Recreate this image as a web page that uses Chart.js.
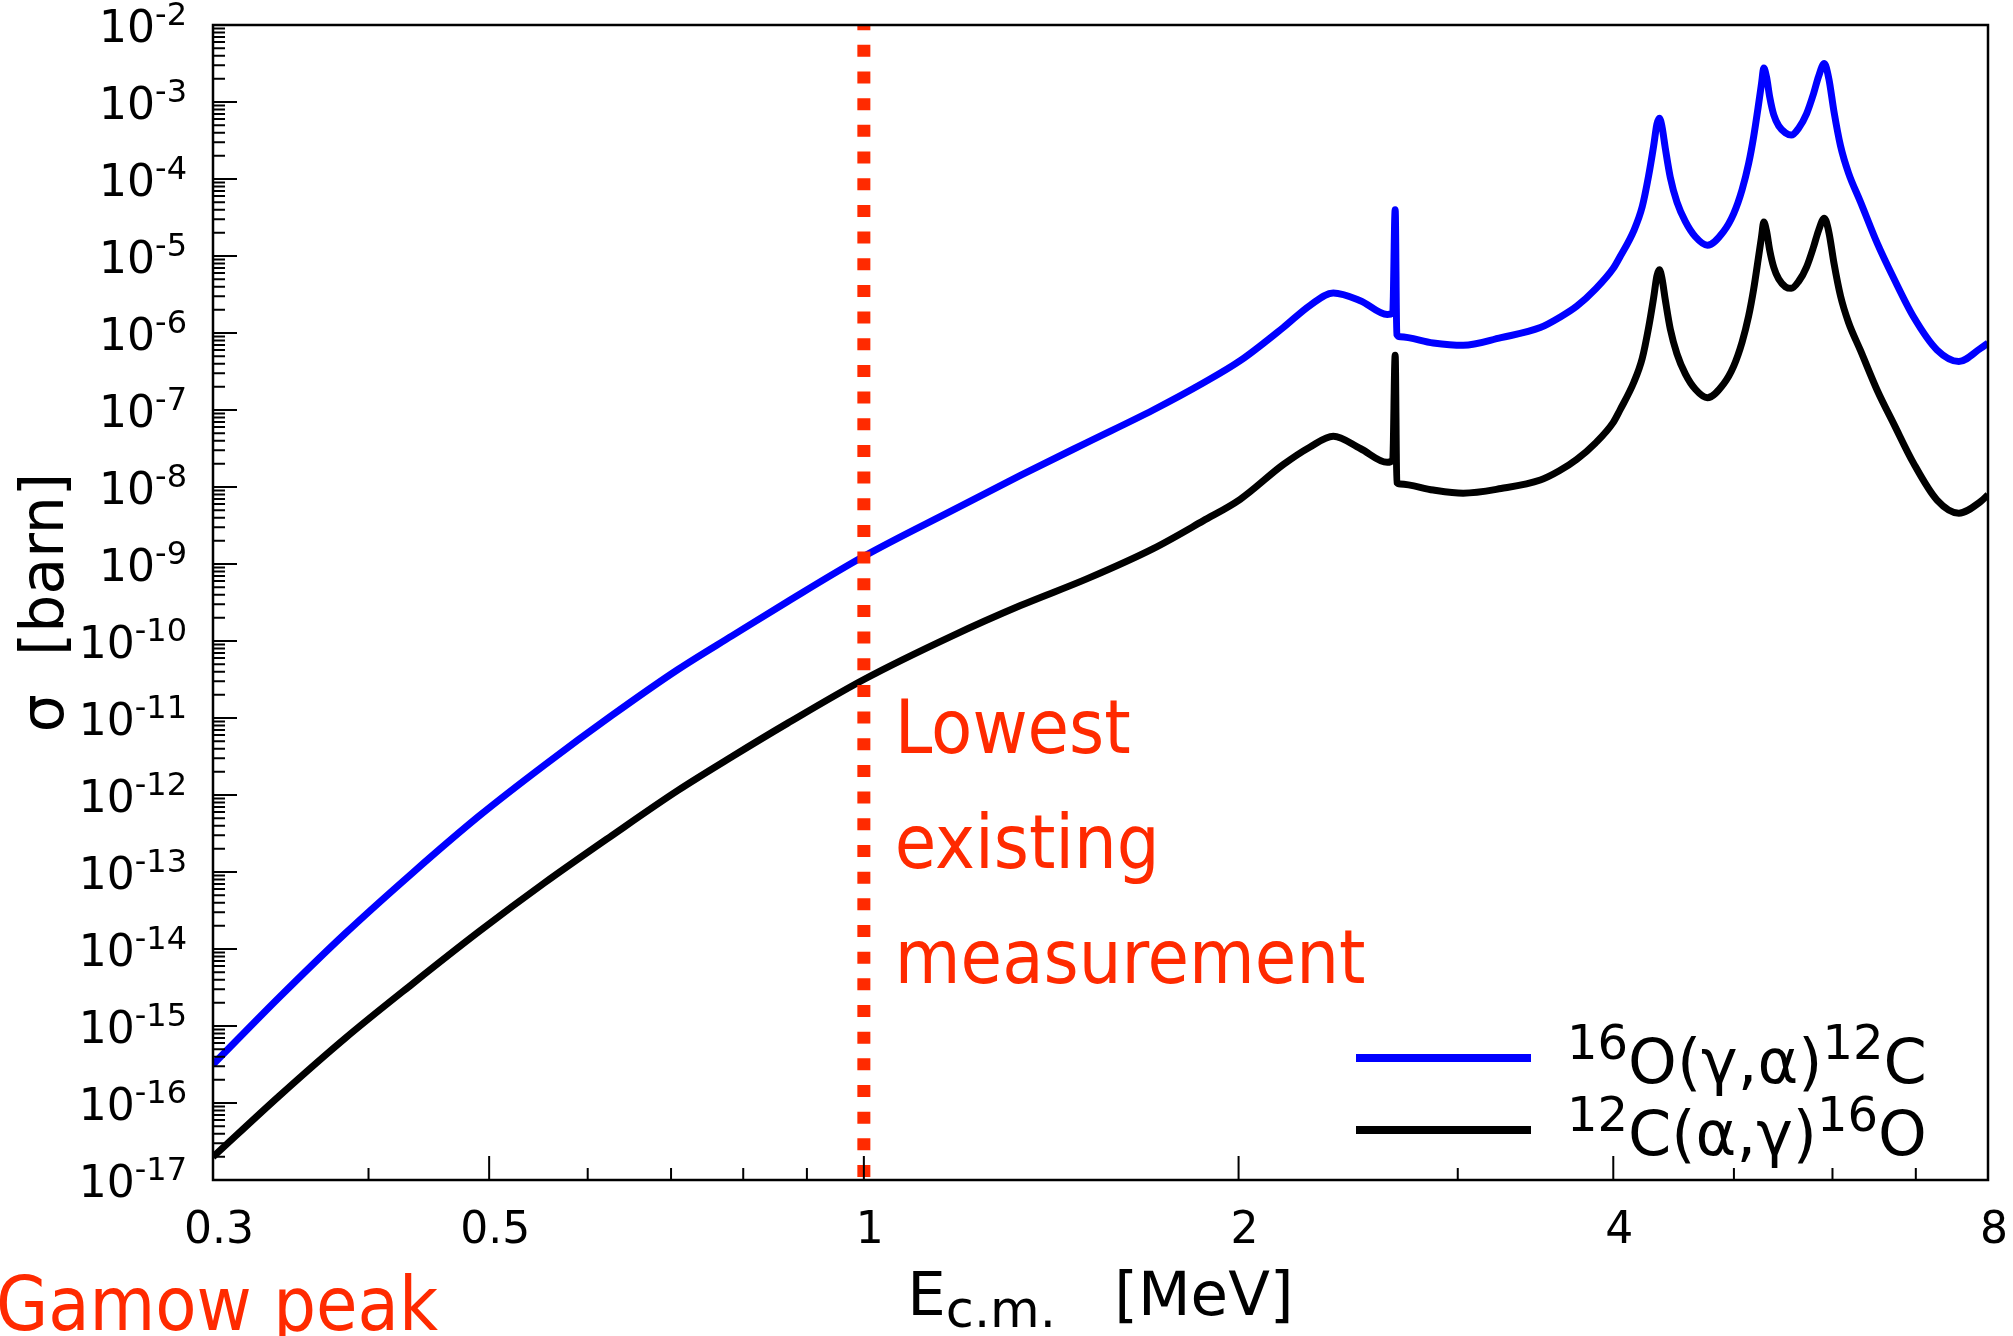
<!DOCTYPE html>
<html>
<head>
<meta charset="utf-8">
<title>Sección eficaz 12C(α,γ)16O</title>
<style>
    html, body { margin: 0; padding: 0; background: #ffffff; }
    #wrap { position: relative; width: 2013px; height: 1336px; }
</style>
<script src="https://cdn.jsdelivr.net/npm/chart.js@4.4.1/dist/chart.umd.min.js"></script>
</head>
<body>
<div id="wrap"><canvas id="chartSigma"></canvas></div>
<script>
// Energía en el centro de masas [MeV]
const energyMeV = [
    0.300, 0.339, 0.383, 0.434, 0.491, 0.554, 0.627, 0.709, 0.784, 0.868,
    1.000, 1.179, 1.336, 1.512, 1.708, 1.873, 2.006, 2.172, 2.283, 2.383,
    2.505, 2.633, 2.660, 2.672, 2.680, 2.697, 2.867, 3.030, 3.250, 3.495,
    3.620, 3.740, 3.870, 4.000, 4.050, 4.155, 4.220, 4.270, 4.310, 4.336,
    4.356, 4.377, 4.404, 4.445, 4.500, 4.570, 4.656, 4.760, 4.906, 4.998,
    5.076, 5.138, 5.186, 5.230, 5.262, 5.284, 5.310, 5.343, 5.383, 5.432,
    5.500, 5.560, 5.636, 5.720, 5.794, 5.847, 5.910, 5.960, 6.016, 6.090,
    6.180, 6.320, 6.520, 6.720, 6.970, 7.280, 7.580, 7.890, 8.000
];

// log10(sigma / barn) para 16O(γ,α)12C (curva azul)
const logSigmaGammaAlpha = [
    -15.50, -14.63, -13.80, -13.01, -12.27, -11.61, -10.97, -10.37, -9.93, -9.49,
    -8.90, -8.30, -7.85, -7.42, -7.00, -6.65, -6.36, -5.93, -5.64, -5.48,
    -5.58, -5.76, -5.74, -4.40, -6.02, -6.05, -6.13, -6.16, -6.06, -5.93,
    -5.80, -5.65, -5.43, -5.16, -5.01, -4.67, -4.36, -3.96, -3.57, -3.29,
    -3.21, -3.32, -3.60, -3.98, -4.30, -4.55, -4.75, -4.86, -4.68, -4.45,
    -4.14, -3.80, -3.45, -3.06, -2.76, -2.56, -2.67, -2.94, -3.17, -3.31,
    -3.40, -3.43, -3.34, -3.15, -2.89, -2.67, -2.50, -2.70, -3.12, -3.57,
    -3.92, -4.30, -4.84, -5.29, -5.79, -6.22, -6.37, -6.20, -6.13
];

// log10(sigma / barn) para 12C(α,γ)16O (curva negra)
const logSigmaAlphaGamma = [
    -16.70, -15.91, -15.16, -14.45, -13.77, -13.14, -12.53, -11.94, -11.50, -11.07,
    -10.50, -9.93, -9.54, -9.19, -8.80, -8.44, -8.16, -7.71, -7.48, -7.34,
    -7.50, -7.68, -7.65, -6.29, -7.94, -7.96, -8.04, -8.08, -8.02, -7.91,
    -7.79, -7.64, -7.43, -7.16, -7.00, -6.64, -6.33, -5.93, -5.54, -5.26,
    -5.18, -5.29, -5.57, -5.95, -6.27, -6.53, -6.73, -6.84, -6.66, -6.43,
    -6.12, -5.78, -5.43, -5.04, -4.75, -4.56, -4.67, -4.93, -5.15, -5.30,
    -5.40, -5.42, -5.33, -5.14, -4.88, -4.67, -4.51, -4.69, -5.09, -5.52,
    -5.86, -6.23, -6.75, -7.18, -7.69, -8.17, -8.34, -8.19, -8.10
];

// Medida existente más baja [MeV]
const lowestMeasurementMeV = [1.0];

// Ejes y marcas
const xMajorTicks = [0.3, 0.5, 1, 2, 4, 8];
const xTickLabels = ['0.3', '0.5', '1', '2', '4', '8'];
const xMinorTicks = [0.4, 0.6, 0.7, 0.8, 0.9, 3, 5, 6, 7];
const yDecades = [-17, -16, -15, -14, -13, -12, -11, -10, -9, -8, -7, -6, -5, -4, -3, -2];
const yMinorFactors = [2, 3, 4, 5, 6, 7, 8, 9];

// Textos
const legendEntries = [
    { color: '#0000ff', parts: [['16', 'legSup'], ['O(γ,α)', 'legMain'], ['12', 'legSup'], ['C', 'legMain']] },
    { color: '#000000', parts: [['12', 'legSup'], ['C(α,γ)', 'legMain'], ['16', 'legSup'], ['O', 'legMain']] }
];
const xTitleParts = [['E', 'title'], ['c.m.', 'titleSub'], ['   ', 'title'], ['[MeV]', 'title']];
const yTitle = 'σ  [barn]';
const annotationLines = ['Lowest', 'existing', 'measurement'];
const gamowLabel = 'Gamow peak';

const sigmaChart = {
    chart: null,

    colors: {
        azul: '#0000ff',
        negro: '#000000',
        rojo: '#ff2a00'
    },

    fonts: {
        base: '"DejaVu Sans", sans-serif',
        rojo: '"DejaVu Sans Condensed", "DejaVu Sans", sans-serif'
    },

    // Tamaños y desplazamientos de cada tipo de texto
    textStyles: {
        tick: { size: 44, dy: 0 },
        tickSup: { size: 32, dy: -17 },
        title: { size: 61, dy: 0 },
        titleSub: { size: 51, dy: 12 },
        legMain: { size: 62, dy: 0 },
        legSup: { size: 48, dy: -24 }
    },

    init: function() {
        const ctx = document.getElementById('chartSigma').getContext('2d');
        this.chart = new Chart(ctx, {
            type: 'line',
            data: { datasets: this.buildDatasets() },
            options: {
                responsive: true,
                maintainAspectRatio: false,
                animation: false,
                devicePixelRatio: 1,
                layout: { padding: { left: 213, right: 25, top: 25, bottom: 156 } },
                scales: {
                    x: { type: 'logarithmic', min: 0.3, max: 8, display: false },
                    y: { type: 'logarithmic', min: 1e-17, max: 1e-2, display: false }
                },
                plugins: {
                    legend: { display: false },
                    tooltip: { enabled: false }
                }
            },
            plugins: [this.decorationsPlugin()]
        });
    },

    // Construye los datasets a partir de los arrays de arriba
    buildDatasets: function() {
        const toPoints = (logs) => energyMeV.map((e, i) => ({ x: e, y: Math.pow(10, logs[i]) }));
        const common = {
            parsing: false,
            pointRadius: 0,
            borderWidth: 7,
            fill: false,
            clip: 0,
            cubicInterpolationMode: 'monotone'
        };
        return [
            {
                label: 'Lowest existing measurement',
                data: [
                    { x: lowestMeasurementMeV[0], y: 1e-17 },
                    { x: lowestMeasurementMeV[0], y: 1e-2 }
                ],
                parsing: false,
                pointRadius: 0,
                borderColor: this.colors.rojo,
                borderWidth: 13,
                borderDash: [12, 14.67],
                borderDashOffset: 23.67,
                borderCapStyle: 'butt',
                clip: 0
            },
            Object.assign({ label: '16O(γ,α)12C', data: toPoints(logSigmaGammaAlpha), borderColor: this.colors.azul }, common),
            Object.assign({ label: '12C(α,γ)16O', data: toPoints(logSigmaAlphaGamma), borderColor: this.colors.negro }, common)
        ];
    },

    measureParts: function(ctx, parts) {
        let w = 0;
        parts.forEach(([text, kind]) => {
            ctx.font = this.textStyles[kind].size + 'px ' + this.fonts.base;
            w += ctx.measureText(text).width;
        });
        return w;
    },

    // Dibuja texto con superíndices / subíndices
    drawParts: function(ctx, parts, x, y) {
        ctx.textAlign = 'left';
        ctx.textBaseline = 'alphabetic';
        parts.forEach(([text, kind]) => {
            const st = this.textStyles[kind];
            ctx.font = st.size + 'px ' + this.fonts.base;
            ctx.fillText(text, x, y + st.dy);
            x += ctx.measureText(text).width;
        });
        return x;
    },

    decorationsPlugin: function() {
        const self = this;
        return {
            id: 'decoraciones',
            afterDatasetsDraw: function(chart) {
                const ctx = chart.ctx;
                const area = chart.chartArea;
                const xs = chart.scales.x;
                const ys = chart.scales.y;

                ctx.save();
                ctx.strokeStyle = '#000000';
                ctx.lineCap = 'butt';

                // --- Marcas del eje Y (hacia dentro) ---
                ctx.lineWidth = 2;
                ctx.beginPath();
                yDecades.forEach((d) => {
                    const y = ys.getPixelForValue(Math.pow(10, d));
                    ctx.moveTo(area.left, y);
                    ctx.lineTo(area.left + 24, y);
                    if (d < yDecades[yDecades.length - 1]) {
                        yMinorFactors.forEach((k) => {
                            const ym = ys.getPixelForValue(k * Math.pow(10, d));
                            ctx.moveTo(area.left, ym);
                            ctx.lineTo(area.left + 12, ym);
                        });
                    }
                });

                // --- Marcas del eje X (hacia dentro) ---
                xMajorTicks.forEach((v) => {
                    const x = xs.getPixelForValue(v);
                    ctx.moveTo(x, area.bottom);
                    ctx.lineTo(x, area.bottom - 24);
                });
                xMinorTicks.forEach((v) => {
                    const x = xs.getPixelForValue(v);
                    ctx.moveTo(x, area.bottom);
                    ctx.lineTo(x, area.bottom - 12);
                });
                ctx.stroke();

                // Marco
                ctx.lineWidth = 2.5;
                ctx.strokeRect(area.left, area.top, area.right - area.left, area.bottom - area.top);

                ctx.fillStyle = '#000000';

                // Etiquetas Y: 10^-n
                yDecades.forEach((d) => {
                    const y = ys.getPixelForValue(Math.pow(10, d));
                    const parts = [['10', 'tick'], [String(d), 'tickSup']];
                    const w = self.measureParts(ctx, parts);
                    self.drawParts(ctx, parts, area.left - 26 - w, y + 17);
                });

                // Etiquetas X
                ctx.font = '44px ' + self.fonts.base;
                ctx.textAlign = 'center';
                xMajorTicks.forEach((v, i) => {
                    ctx.fillText(xTickLabels[i], xs.getPixelForValue(v) + 6, area.bottom + 63);
                });

                // Título eje X
                const wTitle = self.measureParts(ctx, xTitleParts);
                self.drawParts(ctx, xTitleParts, (area.left + area.right) / 2 - wTitle / 2, area.bottom + 135);

                // Título eje Y
                ctx.save();
                ctx.translate(63, (area.top + area.bottom) / 2);
                ctx.rotate(-Math.PI / 2);
                ctx.font = '60px ' + self.fonts.base;
                ctx.textAlign = 'center';
                ctx.fillText(yTitle, 0, 0);
                ctx.restore();

                // --- Leyenda ---
                legendEntries.forEach((entry, i) => {
                    const yLine = 1058 + i * 72;
                    ctx.strokeStyle = entry.color;
                    ctx.lineWidth = 8;
                    ctx.beginPath();
                    ctx.moveTo(1356, yLine);
                    ctx.lineTo(1531, yLine);
                    ctx.stroke();
                    ctx.fillStyle = '#000000';
                    self.drawParts(ctx, entry.parts, 1567, yLine + 25);
                });

                // --- Anotaciones en rojo ---
                ctx.fillStyle = self.colors.rojo;
                ctx.font = '75px ' + self.fonts.rojo;
                ctx.textAlign = 'left';
                const xMeas = xs.getPixelForValue(lowestMeasurementMeV[0]);
                annotationLines.forEach((line, i) => {
                    ctx.fillText(line, xMeas + 31, 753 + i * 115);
                });
                ctx.textAlign = 'right';
                ctx.fillText(gamowLabel, 438, 1330);

                ctx.restore();
            }
        };
    }
};

sigmaChart.init();
</script>
</body>
</html>
